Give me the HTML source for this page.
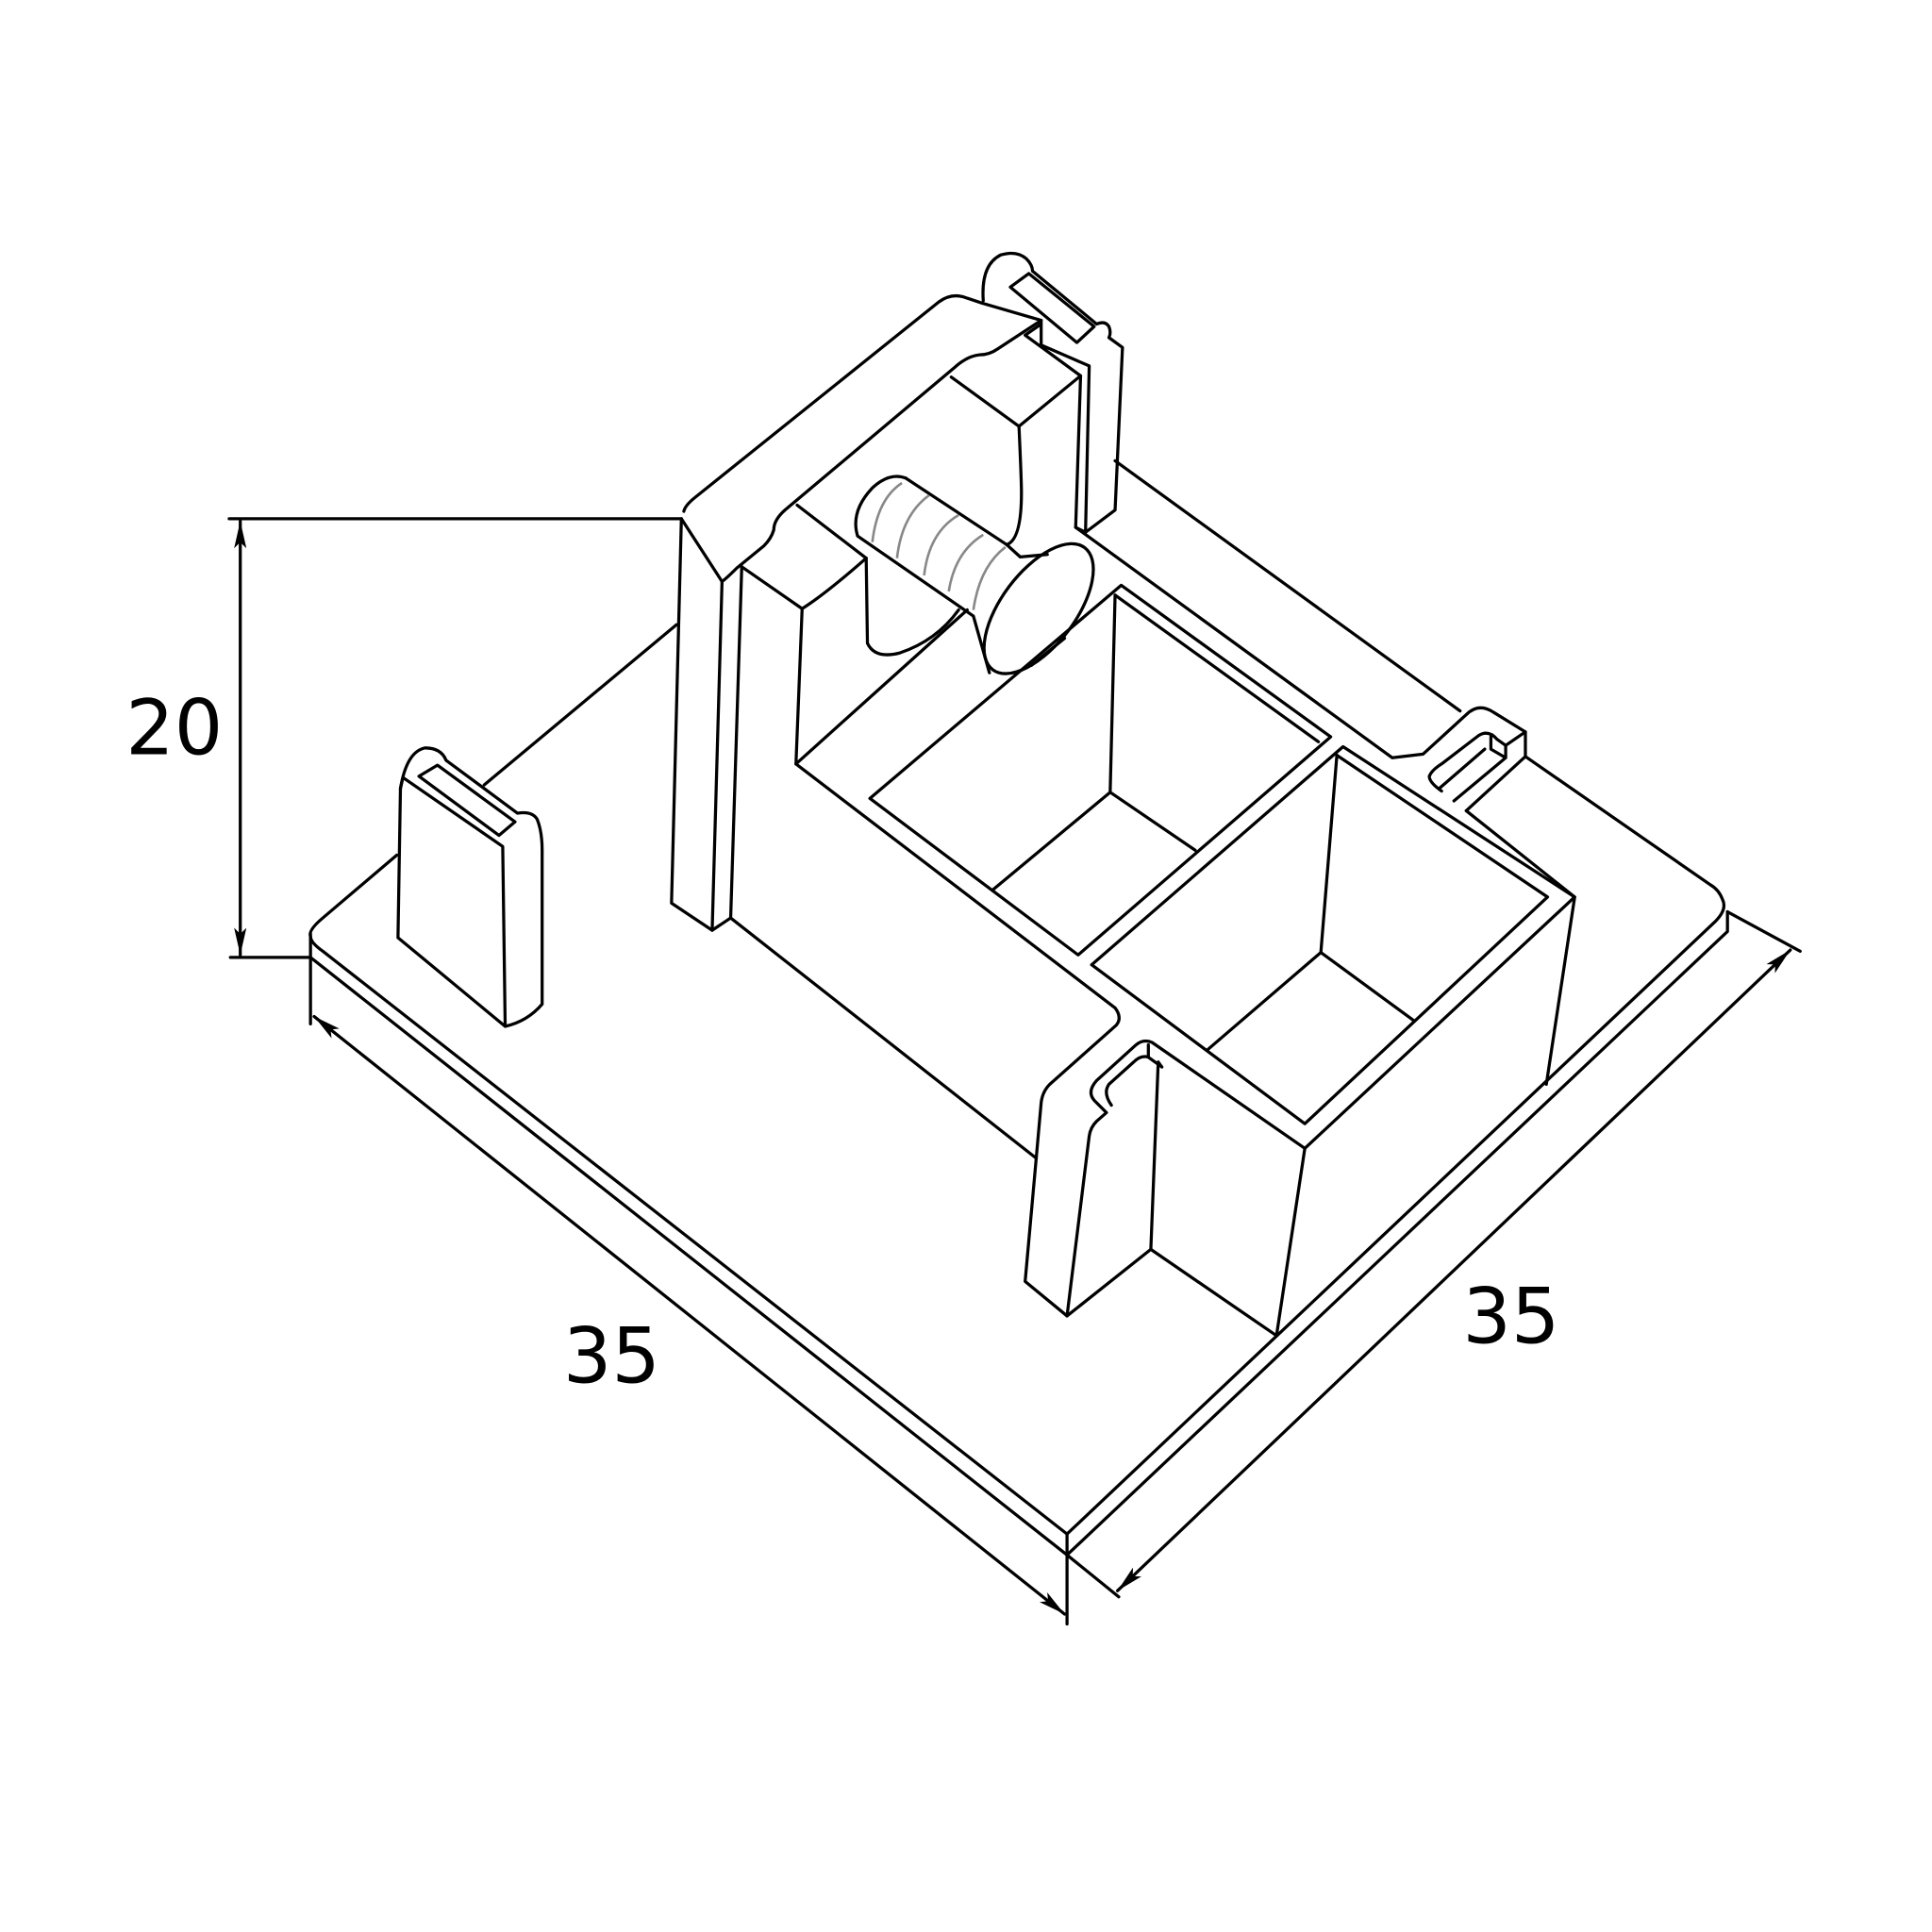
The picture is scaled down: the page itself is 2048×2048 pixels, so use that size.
<!DOCTYPE html>
<html><head><style>html,body{margin:0;padding:0;background:#fff}svg{display:block}</style></head>
<body>
<svg width="2048" height="2048" viewBox="0 0 1568 1568" xmlns="http://www.w3.org/2000/svg">
<defs>
<marker id="ar" viewBox="0 0 22 10" refX="22" refY="5" markerWidth="22" markerHeight="10" markerUnits="userSpaceOnUse" orient="auto-start-reverse"><path d="M0,0 L22,5 L0,10 L5,5z" fill="#000"/></marker>
</defs>
<g fill="none" stroke="#000" stroke-width="2.5" stroke-linejoin="round" stroke-linecap="round">
<line x1="186" y1="421" x2="553" y2="421"/>
<line x1="187" y1="777" x2="252" y2="777"/>
<line x1="195" y1="423" x2="195" y2="775" marker-start="url(#ar)" marker-end="url(#ar)"/>
<line x1="252" y1="777" x2="252" y2="831"/>
<line x1="866" y1="1262" x2="866" y2="1318"/>
<line x1="255" y1="825" x2="864" y2="1310" marker-start="url(#ar)" marker-end="url(#ar)"/>
<line x1="866" y1="1262" x2="908" y2="1296"/>
<line x1="1402" y1="740" x2="1461" y2="772"/>
<line x1="907" y1="1291" x2="1453" y2="771" marker-start="url(#ar)" marker-end="url(#ar)"/>
<path d="M322,694 L262,745 Q250,755 252,760 Q252,765 262,772 L866,1245 L1392,748 Q1402,738 1398,730 Q1395,722 1388,718 L1238,614"/>
<path d="M393,637 L549,507"/>
<path d="M905,374 L1185,577"/>
<path d="M252,758 L252,777 L866,1262 L1402,756 L1402,740"/>
<path d="M866,1245 L866,1262"/>
<path d="M327,631 L408,687 L410,833 L323,761 L325,640 Q330,610 345,607 Q358,607 362,617 L420,660 Q432,658 436,665 Q440,675 440,690 L440,815 Q428,829 410,833"/>
<path d="M327,631 L325,640"/>
<path d="M340,630 L355,621 L418,667 L405,678z"/>
<path d="M553,421 L545,733 L578,755 L586,472"/>
<path d="M578,755 L593,745 L602,460"/>
<path d="M553,421 L586,472"/>
<path d="M555,415 Q556,410 565,403 L762,245 Q773,237 785,242 L797,246 L845,260 L810,283 Q803,288 795,288 Q785,289 775,298 L637,414 Q628,422 628,430 Q626,437 620,443 L598,461 Q590,469 586,472"/>
<path d="M798,244 Q796,215 812,207 Q825,203 833,210 Q838,215 838,220 L890,263 Q897,260 900,265 Q902,270 900,274 L911,282 L905,414 L881,432"/>
<path d="M820,233 L835,222 L888,265 L874,278z"/>
<path d="M845,260 L845,280 L884,297 L881,432 L873,428 L877,305 L832,272 L845,263"/>
<path d="M772,306 L827,346 L877,305"/>
<path d="M827,346 Q829,390 829,400 Q829,438 817,442"/>
<path d="M647,410 L703,453 Q670,482 651,494 L602,460"/>
<path d="M651,494 L646,620 L785,495"/>
<path d="M703,453 L704,522 Q710,535 730,530 Q760,520 778,495"/>
<path d="M646,620 L905,818 Q911,826 906,832 L852,880 Q846,886 845,895 L841,940 L832,1040 L866,1068 L934,1014 L940,862"/>
<path d="M593,745 L841,940"/>
<path d="M735,388 L817,442 L828,452 L850,450"/>
<path d="M735,388 Q722,383 708,396 Q690,415 696,435 L790,500 L803,546"/>
<ellipse cx="843" cy="494" rx="30" ry="62" transform="rotate(37 843 494)"/>
<path d="M837,540 L864,518"/>
</g>
<g fill="none" stroke="#888" stroke-width="2">
<path d="M708,440 Q712,405 732,392"/><path d="M728,453 Q732,418 754,402"/><path d="M750,467 Q754,432 778,418"/><path d="M770,480 Q775,448 798,434"/><path d="M790,495 Q795,460 816,444"/>
</g>
<g fill="none" stroke="#000" stroke-width="2.5" stroke-linejoin="round" stroke-linecap="round">
<path d="M873,428 L1130,615 L1155,612 L1190,580 Q1200,570 1212,578 L1238,594 L1238,614 L1190,658"/>
<path d="M1170,642 Q1160,635 1160,630 Q1162,625 1170,620 L1200,597 Q1208,592 1215,600 L1222,605 L1238,594"/>
<path d="M1180,650 L1222,615 L1222,605 M1210,598 L1210,608 L1222,615 M1168,640 L1205,608"/>
<path d="M1190,658 L1278,728 L1255,880"/>
<path d="M706,648 L910,475 L1080,598 L875,775z"/>
<path d="M905,483 L1070,602"/>
<path d="M905,483 L901,643 L806,722"/>
<path d="M901,643 L970,690"/>
<path d="M886,783 L1090,606 L1278,728 L1059,932 L935,846 Q928,843 922,848 L890,877 Q882,886 888,893 L898,903 L890,910 Q885,915 884,922 L866,1068"/>
<path d="M1085,613 L1256,728 L1059,912 L886,783"/>
<path d="M1085,613 L1072,773 L980,852"/>
<path d="M1072,773 L1147,828"/>
<path d="M1059,932 L1036,1084 L934,1014"/>
<path d="M932,848 L932,858 L943,866 L940,862 M932,858 Q926,856 920,862 L900,880 Q895,887 902,897"/>
</g>
<g font-family="'DejaVu Sans','Liberation Sans',sans-serif" font-size="62" fill="#000">
<text x="102" y="612">20</text>
<text x="457" y="1122">35</text>
<text x="1187" y="1090">35</text>
</g>
</svg>
</body></html>
